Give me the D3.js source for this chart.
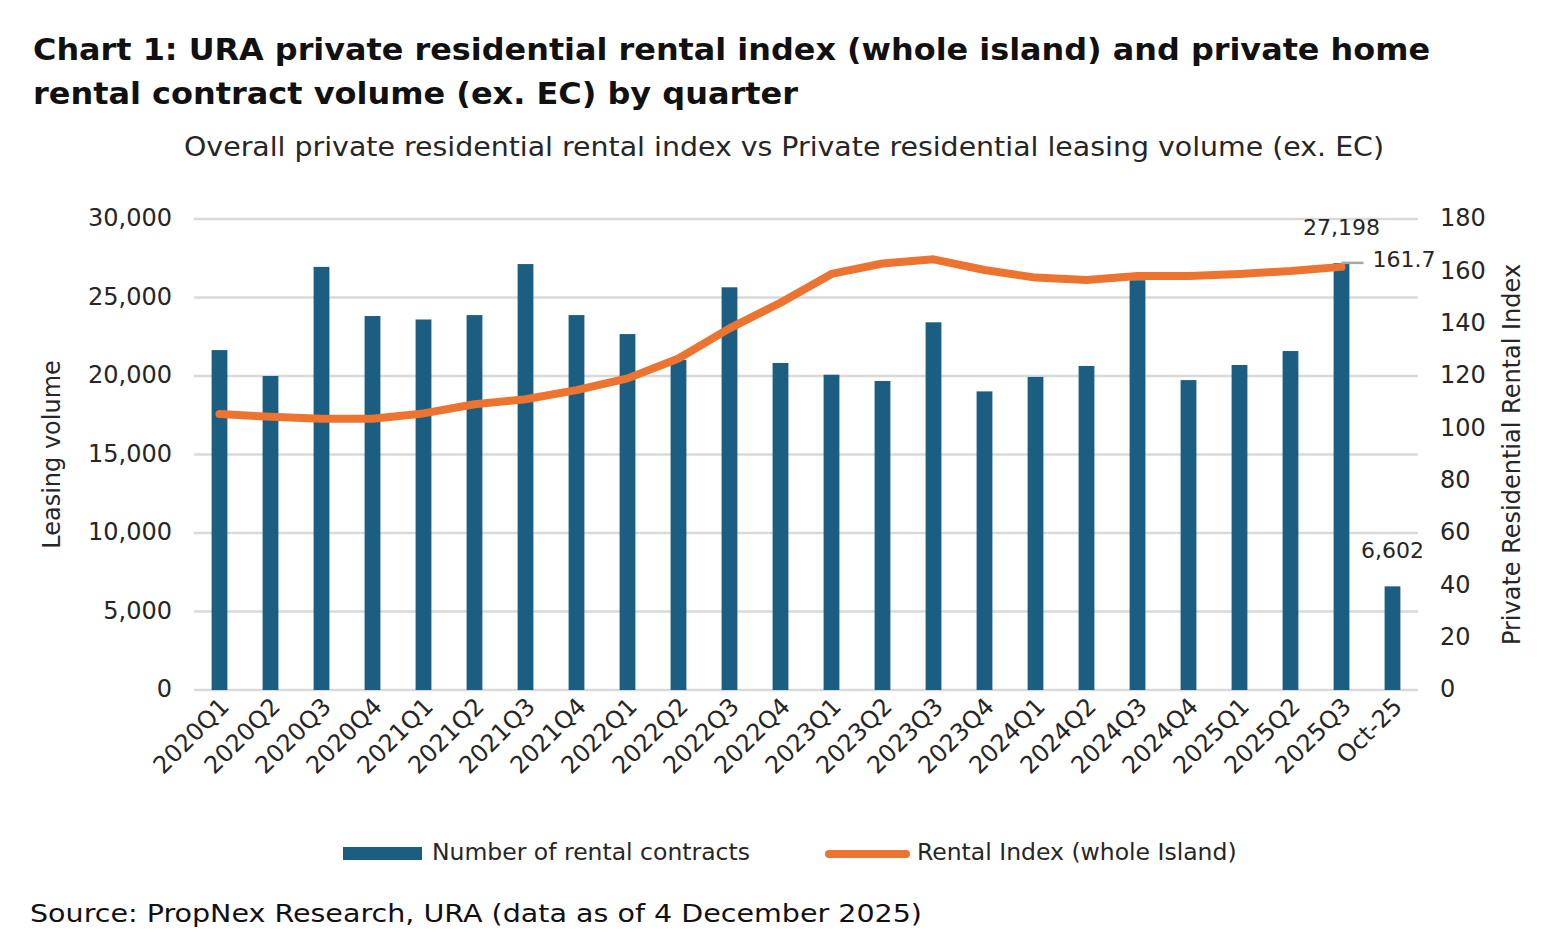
<!DOCTYPE html>
<html>
<head>
<meta charset="utf-8">
<script src="https://cdn.jsdelivr.net/npm/d3@7"></script>
<style>
  html, body { margin: 0; padding: 0; background: #fff; }
  svg { display: block; font-family: "DejaVu Sans", sans-serif; }
</style>
</head>
<body>
<div id="chart"></div>
<script>
const categories = ['2020Q1','2020Q2','2020Q3','2020Q4','2021Q1','2021Q2','2021Q3','2021Q4',
  '2022Q1','2022Q2','2022Q3','2022Q4','2023Q1','2023Q2','2023Q3','2023Q4',
  '2024Q1','2024Q2','2024Q3','2024Q4','2025Q1','2025Q2','2025Q3','Oct-25'];
const contracts = [21650, 20000, 26950, 23820, 23600, 23880, 27130, 23880,
  22670, 21020, 25650, 20830, 20080, 19680, 23420, 19020,
  19940, 20640, 26100, 19740, 20700, 21590, 27198, 6602];
const rentalIndex = [105.5, 104.4, 103.7, 103.7, 105.7, 109.2, 111.1, 114.6,
  119.1, 126.7, 138.2, 148.0, 159.0, 163.0, 164.6, 160.5,
  157.6, 156.7, 158.2, 158.2, 159.0, 160.1, 161.7];
const leftTicks = [0, 5000, 10000, 15000, 20000, 25000, 30000];
const rightTicks = [0, 20, 40, 60, 80, 100, 120, 140, 160, 180];

const W = 1565, H = 943;
const margin = { top: 219, right: 147, bottom: 253, left: 194 };
const innerW = W - margin.left - margin.right;
const innerH = H - margin.top - margin.bottom;
const barColor = '#1b5e82', lineColor = '#ec7430', gridColor = '#d9d9d9', textColor = '#262626';

const svg = d3.select('#chart').append('svg')
  .attr('width', W).attr('height', H)
  .attr('viewBox', `0 0 ${W} ${H}`);

// fit a text element into a given width (the original font is wider than what we have)
function fit(sel, w) {
  const len = sel.node().getComputedTextLength();
  if (Math.abs(len - w) > 4) sel.attr('textLength', w).attr('lengthAdjust', 'spacingAndGlyphs');
  return sel;
}

// Titles
fit(svg.append('text').attr('x', 33).attr('y', 60)
  .attr('font-size', 31).attr('font-weight', 700).attr('fill', '#111')
  .text('Chart 1: URA private residential rental index (whole island) and private home'), 1397);
fit(svg.append('text').attr('x', 33).attr('y', 104)
  .attr('font-size', 31).attr('font-weight', 700).attr('fill', '#111')
  .text('rental contract volume (ex. EC) by quarter'), 765);
fit(svg.append('text').attr('x', 184).attr('y', 156)
  .attr('font-size', 26).attr('fill', textColor)
  .text('Overall private residential rental index vs Private residential leasing volume (ex. EC)'), 1200);

const g = svg.append('g').attr('transform', `translate(${margin.left},${margin.top})`);

// Scales
const x = d3.scaleBand().domain(categories).range([0, innerW]).paddingInner(0.69).paddingOuter(0.345);
const xc = d => x(d) + x.bandwidth() / 2;
const yL = d3.scaleLinear().domain([0, 30000]).range([innerH, 0]);
const yR = d3.scaleLinear().domain([0, 180]).range([innerH, 0]);

// Gridlines
g.append('g').selectAll('line').data(leftTicks).join('line')
  .attr('x1', 0).attr('x2', innerW)
  .attr('y1', d => yL(d)).attr('y2', d => yL(d))
  .attr('stroke', gridColor).attr('stroke-width', 2.5);

// Left axis
const fmt = d3.format(',');
const axL = g.append('g').attr('transform', 'translate(-10,0)')
  .call(d3.axisLeft(yL).tickValues(leftTicks).tickFormat(fmt).tickSize(0).tickPadding(12));
axL.select('.domain').remove();
axL.selectAll('text').attr('font-size', 24).attr('dy', '0.28em').attr('fill', textColor).attr('font-family', '"DejaVu Sans", sans-serif');

// Right axis
const axR = g.append('g').attr('transform', `translate(${innerW + 10},0)`)
  .call(d3.axisRight(yR).tickValues(rightTicks).tickSize(0).tickPadding(12));
axR.select('.domain').remove();
axR.selectAll('text').attr('font-size', 24).attr('dy', '0.28em').attr('fill', textColor).attr('font-family', '"DejaVu Sans", sans-serif');

// Axis titles
svg.append('text')
  .attr('transform', `translate(60,${margin.top + innerH / 2}) rotate(-90)`)
  .attr('text-anchor', 'middle').attr('font-size', 24).attr('fill', textColor)
  .text('Leasing volume');
svg.append('text')
  .attr('transform', `translate(1520,${margin.top + innerH / 2}) rotate(-90)`)
  .attr('text-anchor', 'middle').attr('font-size', 24).attr('fill', textColor)
  .text('Private Residential Rental Index');

// Bars
g.append('g').selectAll('rect').data(categories).join('rect')
  .attr('x', d => x(d))
  .attr('y', (d, i) => yL(contracts[i]))
  .attr('width', x.bandwidth())
  .attr('height', (d, i) => innerH - yL(contracts[i]))
  .attr('fill', barColor);

// X category labels
g.append('g').selectAll('text').data(categories).join('text')
  .attr('transform', d => `translate(${xc(d) + 11},${innerH + 18}) rotate(-45)`)
  .attr('text-anchor', 'end').attr('font-size', 24).attr('fill', textColor)
  .text(d => d);

// Line
const line = d3.line()
  .x((d, i) => xc(categories[i]))
  .y(d => yR(d));
g.append('path').datum(rentalIndex)
  .attr('d', line)
  .attr('fill', 'none').attr('stroke', lineColor)
  .attr('stroke-width', 8).attr('stroke-linecap', 'round').attr('stroke-linejoin', 'round');

// Annotations
const lastI = rentalIndex.length - 1;
const lx = xc(categories[lastI]), ly = yR(rentalIndex[lastI]);
g.append('line')
  .attr('x1', lx).attr('x2', lx + 22)
  .attr('y1', ly - 4).attr('y2', ly - 4)
  .attr('stroke', '#a6a6a6').attr('stroke-width', 2.5);
g.append('text').attr('x', lx + 31).attr('y', ly)
  .attr('font-size', 22).attr('fill', textColor).text(rentalIndex[lastI].toFixed(1));

const iQ3 = categories.indexOf('2025Q3');
g.append('text').attr('x', xc(categories[iQ3])).attr('y', yL(contracts[iQ3]) - 28)
  .attr('text-anchor', 'middle').attr('font-size', 22).attr('fill', textColor)
  .text(fmt(contracts[iQ3]));
const iOct = categories.length - 1;
g.append('text').attr('x', xc(categories[iOct])).attr('y', yL(contracts[iOct]) - 28)
  .attr('text-anchor', 'middle').attr('font-size', 22).attr('fill', textColor)
  .text(fmt(contracts[iOct]));

// Legend
const leg = svg.append('g');
leg.append('rect').attr('x', 343).attr('y', 847).attr('width', 79).attr('height', 13).attr('fill', barColor);
leg.append('text').attr('x', 432).attr('y', 860).attr('font-size', 23.5).attr('fill', textColor)
  .text('Number of rental contracts');
leg.append('line').attr('x1', 829).attr('x2', 906).attr('y1', 854).attr('y2', 854)
  .attr('stroke', lineColor).attr('stroke-width', 8).attr('stroke-linecap', 'round');
leg.append('text').attr('x', 917).attr('y', 860).attr('font-size', 23.5).attr('fill', textColor)
  .text('Rental Index (whole Island)');

// Source
fit(svg.append('text').attr('x', 30).attr('y', 922).attr('font-size', 24).attr('fill', '#111')
  .text('Source: PropNex Research, URA (data as of 4 December 2025)'), 892);
</script>
</body>
</html>
